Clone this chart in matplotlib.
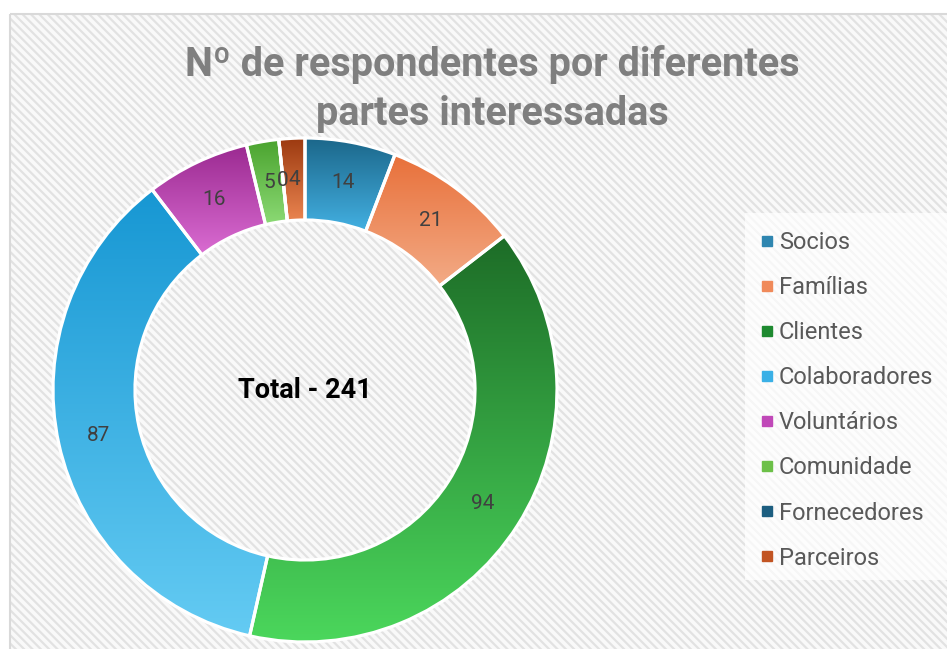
import numpy as np
import matplotlib
matplotlib.use("Agg")
import matplotlib.pyplot as plt
import matplotlib.patches as patches
from matplotlib.colors import LinearSegmentedColormap
from matplotlib.lines import Line2D

plt.rcParams['font.family'] = ['Roboto', 'DejaVu Sans']
plt.rcParams['hatch.linewidth'] = 1.6

# data
categories = ['Socios', 'Famílias', 'Clientes', 'Colaboradores',
              'Voluntários', 'Comunidade', 'Fornecedores', 'Parceiros']
values = [14, 21, 94, 87, 16, 5, 0, 4]
title = 'Nº de respondentes por diferentes\npartes interessadas'
center_text = 'Total - 241'

# gradient colours (top, bottom) and legend swatch colours
top_colors = ['#1b6689', '#e8703a', '#1d6c27', '#1797d3',
              '#9b2a91', '#4aa32e', '#1a5f80', '#9c3a10']
bottom_colors = ['#43b0e2', '#f3ab86', '#4bd75c', '#64cbf3',
                 '#da6cd2', '#8cda75', '#2a80aa', '#ea8450']
legend_colors = ['#2f86b0', '#f08a5a', '#1e8a30', '#3ab0e6',
                 '#c048b8', '#6cc048', '#1c5e80', '#c25422']

W, H = 947, 649
fig = plt.figure(figsize=(W / 100, H / 100), dpi=100)

# striped chart background
bg = fig.add_axes([0, 0, 1, 1])
bg.set_xlim(0, W)
bg.set_ylim(H, 0)
bg.axis('off')
bg.add_patch(patches.Rectangle((9.5, 13.5), 1000, 700, facecolor='#f9f9f9',
                               edgecolor='#e2e2e2', linewidth=0, hatch='\\\\\\\\'))
bg.add_patch(patches.Rectangle((9.5, 13.5), 1000, 700, facecolor='none',
                               edgecolor='#d9d9d9', linewidth=1.5))
# legend area
bg.add_patch(patches.Rectangle((745, 213), 300, 367, facecolor='white',
                               edgecolor='none', alpha=0.7))

# donut
cx, cy, R = 305, 390, 252
ax = fig.add_axes([(cx - R) / W, (H - cy - R) / H, 2 * R / W, 2 * R / H])
ax.axis('off')
ring = 82 / R
wedges, _ = ax.pie(values, startangle=90, counterclock=False, radius=1,
                   colors=top_colors,
                   wedgeprops=dict(width=ring, edgecolor='white', linewidth=2.3))

grad = np.linspace(0, 1, 256).reshape(-1, 1)
for w, v, ctop, cbot in zip(wedges, values, top_colors, bottom_colors):
    w.set_zorder(3)
    if v == 0:
        continue
    x0, y0, x1, y1 = w.get_path().get_extents().extents
    cmap = LinearSegmentedColormap.from_list('g', [cbot, ctop])
    im = ax.imshow(grad, cmap=cmap, origin='lower', aspect='auto',
                   extent=[x0, x1, y0, y1], zorder=2)
    im.set_clip_path(w)
    w.set_facecolor('none')

ax.set_xlim(-1, 1)
ax.set_ylim(-1, 1)
ax.set_aspect('equal')

# value labels
r_lab = 1 - ring / 2
for w, v in zip(wedges, values):
    ang = np.deg2rad((w.theta1 + w.theta2) / 2)
    ax.text(r_lab * np.cos(ang), r_lab * np.sin(ang), str(v),
            ha='center', va='center', fontsize=15, color='#404040', zorder=5)

ax.text(0, 0, center_text, ha='center', va='center', fontsize=19.5,
        fontweight='bold', color='black', zorder=5)

fig.text(492 / W, 1 - 125 / H, title, ha='center', va='baseline',
         fontsize=28.5, fontweight='bold', color='#7f7f7f', linespacing=1.36)

handles = [Line2D([], [], marker='s', linestyle='none', markersize=7,
                  markerfacecolor=c, markeredgecolor=c) for c in legend_colors]
leg = fig.legend(handles, categories, loc='upper left',
                 bbox_to_anchor=(745 / W, 1 - 215 / H), fontsize=17,
                 labelcolor='#595959', frameon=False,
                 handlelength=0.5, handletextpad=0.26, labelspacing=0.935,
                 borderpad=0.68, borderaxespad=0)

fig.savefig('out.png', dpi=100)
